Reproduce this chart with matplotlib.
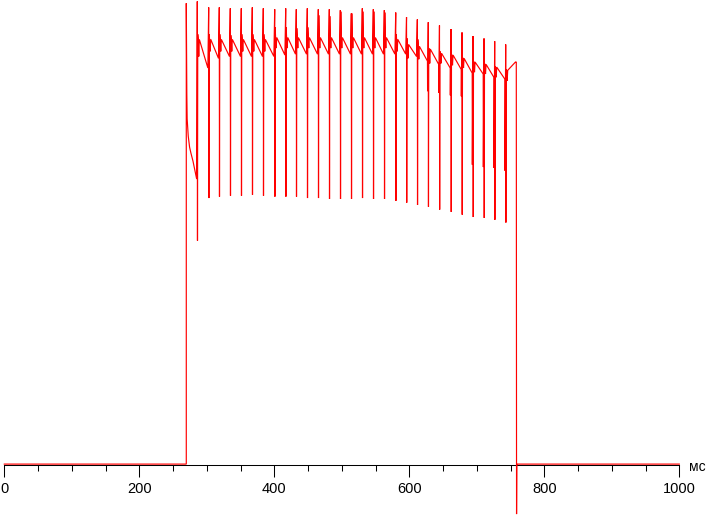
import numpy as np
import matplotlib
matplotlib.use("Agg")
import matplotlib.pyplot as plt
from matplotlib.ticker import MultipleLocator

# ---- data: time in ms, relative brightness in % ----
onset_t = 269.6
onset_top = 99.6
first_decay_t = [270.4, 270.9, 272.5, 274.5, 276.5, 279.5, 282.5, 285.0]
first_decay_v = [80.0, 74.6, 70.9, 68.5, 67.2, 65.5, 63.4, 61.6]

spike_t = [285.9, 302.8, 318.5, 334.8, 351.1, 367.4, 383.7, 400.6, 416.9, 432.6,
           448.9, 465.2, 481.5, 497.8, 514.1, 530.4, 546.7, 563.0, 579.9, 595.9,
           611.9, 628.1, 644.7, 661.8, 678.1, 694.4, 710.7, 726.5, 742.8]
spike_top = [100.0, 98.7, 98.7, 98.5, 98.5, 98.7, 98.5, 98.3, 98.5, 98.3,
             98.5, 98.3, 98.3, 98.1, 97.4, 98.5, 98.3, 98.1, 97.6, 96.6,
             96.1, 95.5, 94.8, 94.0, 93.3, 92.5, 92.0, 91.4, 90.7]
spike_bottom = [48.3, 57.5, 57.8, 58.0, 58.0, 58.2, 58.0, 57.8, 57.8, 57.8,
                57.5, 57.5, 57.3, 57.3, 57.3, 57.5, 57.3, 57.3, 56.9, 56.5,
                56.0, 55.6, 55.0, 54.5, 53.9, 53.4, 53.2, 52.8, 52.2]
pre_drop = [np.nan] * 21 + [80.6, 80.2, 79.7, 79.5, 64.7, 64.2, 64.0, 63.4]
peak = [92.9, 92.9, 92.9, 92.7, 92.9, 92.9, 92.9, 94.4, 94.4, 94.2,
        94.4, 97.0, 96.8, 97.8, 97.4, 97.8, 97.8, 97.6, 92.9, 92.0,
        91.8, 89.9, 89.2, 88.6, 87.9, 87.1, 86.6, 86.0, 85.3]
plateau = [91.8, 91.8, 91.8, 91.8, 91.8, 91.8, 91.8, 92.2, 92.2, 92.2,
           92.2, 92.2, 92.2, 92.2, 92.2, 92.2, 92.2, 92.2, 91.8, 90.7,
           90.3, 89.7, 88.8, 88.4, 87.7, 86.9, 86.4, 85.8, 85.1]
dip = [88.1, 89.2, 89.2, 89.2, 89.2, 89.2, 89.2, 89.9, 89.9, 89.9,
       89.9, 89.9, 89.9, 89.9, 89.9, 89.9, 89.9, 89.9, 89.2, 87.7,
       87.5, 86.6, 86.6, 86.2, 85.6, 84.7, 84.3, 83.6, 82.8]
period_end = [85.6, 87.7, 88.1, 88.1, 88.1, 88.1, 88.1, 88.4, 88.6, 88.6,
              88.6, 88.6, 88.6, 88.6, 88.6, 88.6, 88.6, 88.6, 88.6, 88.1,
              87.1, 86.4, 85.6, 85.3, 84.5, 84.3, 83.6, 83.2, 86.9]
final_t = 758.5
final_bottom = -10.8

x_ticks = [0, 200, 400, 600, 800, 1000]
x_unit = "мс"

# ---- build trace ----
t = [0.0, onset_t, onset_t] + first_decay_t
v = [0.0, 0.0, onset_top] + first_decay_v
n = len(spike_t)
for k in range(n):
    ts = spike_t[k]
    if not np.isnan(pre_drop[k]):
        t.append(ts - 1.0); v.append(pre_drop[k])
    t += [ts, ts + 0.3, ts + 0.7, ts + 1.3, ts + 2.2, ts + 3.0]
    v += [spike_top[k], spike_bottom[k], peak[k], plateau[k], dip[k], plateau[k]]
    nxt = spike_t[k + 1] if k < n - 1 else final_t
    t.append(nxt - 1.2); v.append(period_end[k])
t += [final_t, final_t + 0.4, final_t + 0.8, 1000.0]
v += [period_end[-1], final_bottom, 0.0, 0.0]

# ---- figure ----
fig = plt.figure(figsize=(7.07, 5.15), dpi=100)
ax = fig.add_axes([0, 0, 1, 1])
ax.plot(t, v, color="#ff0000", lw=0.85, antialiased=True, zorder=3,
        solid_joinstyle="miter")

ax.set_xlim((0 - 4.3) / 0.675, (707 - 4.3) / 0.675)
ax.set_ylim(-11.0, 100.3)

for s in ["left", "right", "top"]:
    ax.spines[s].set_visible(False)
ax.spines["bottom"].set_position(("data", -0.2))
ax.spines["bottom"].set_bounds(0, 1000)
ax.spines["bottom"].set_linewidth(0.75)
ax.spines["bottom"].set_color("black")
ax.yaxis.set_visible(False)
ax.set_xticks(x_ticks)
ax.xaxis.set_minor_locator(MultipleLocator(50))
ax.tick_params(axis="x", which="major", length=8.6, width=0.75, direction="out",
               pad=3.5, labelsize=10.5, colors="black")
ax.tick_params(axis="x", which="minor", length=4.3, width=0.75, direction="out")
for lab in ax.get_xticklabels():
    lab.set_family(["Liberation Sans", "DejaVu Sans"])
ax.text(1015, -0.6, x_unit, ha="left", va="center", fontsize=10,
        family=["Liberation Sans", "DejaVu Sans"])
ax.patch.set_visible(False)
fig.savefig("out.png", dpi=100, facecolor="white")
